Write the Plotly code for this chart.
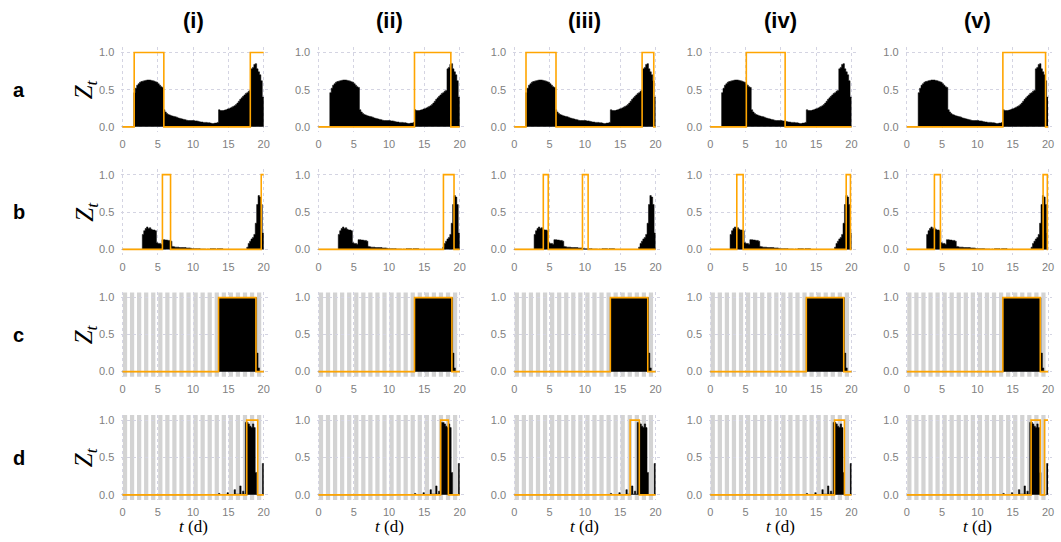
import plotly.graph_objects as go

W, H = 1061, 542

# time grid for the probability series (days)
t_grid = [round(i * 0.2, 1) for i in range(100)]

# probability Z_t for each row (values at each t_grid step)
z_a = [0, 0, 0, 0, 0, 0, 0, 0,
       0.46, 0.52, 0.56, 0.58, 0.60, 0.61, 0.615, 0.62, 0.625, 0.63,
       0.63, 0.63, 0.625, 0.62, 0.615, 0.605, 0.60, 0.58, 0.56, 0.54, 0.53,
       0.23, 0.20, 0.18, 0.165, 0.16, 0.15, 0.145, 0.14, 0.135, 0.13, 0.12,
       0.115, 0.11, 0.105, 0.10, 0.095, 0.09, 0.085, 0.085, 0.085, 0.085,
       0.085, 0.08, 0.08, 0.075, 0.07, 0.065, 0.065, 0.06, 0.06, 0.06,
       0.055, 0.055, 0.05, 0.045, 0.045, 0.05, 0.05, 0.06,
       0.23, 0.22, 0.22, 0.22, 0.225, 0.23, 0.24, 0.245, 0.255, 0.265,
       0.275, 0.285, 0.30, 0.32, 0.345, 0.37, 0.39, 0.41, 0.43, 0.45,
       0.46, 0.48, 0.49,
       0.78, 0.80, 0.84, 0.85, 0.78, 0.74, 0.70, 0.62, 0.40]

z_b = [0, 0, 0, 0, 0, 0, 0, 0, 0, 0, 0, 0, 0, 0,
       0.20, 0.25, 0.28, 0.30, 0.28, 0.29, 0.27, 0.26, 0.26, 0.25,
       0.09, 0.08, 0.08, 0.07,
       0.13, 0.13, 0.125, 0.125, 0.12, 0.12, 0.11,
       0.04, 0.035, 0.03, 0.03, 0.03, 0.025, 0.025, 0.025, 0.025, 0.025,
       0.02, 0.02, 0.02, 0.015, 0.01, 0.01, 0.01, 0.01, 0.01, 0.01,
       0.005, 0.005, 0.005, 0.005, 0.0, 0.005, 0.0, 0.01, 0.01, 0.01,
       0.01, 0.0, 0.01, 0.01, 0.01, 0.01,
       0, 0, 0, 0, 0, 0, 0, 0, 0, 0, 0, 0, 0, 0, 0, 0, 0,
       0.03, 0.08, 0.11, 0.14, 0.16, 0.20, 0.35, 0.60, 0.72, 0.70, 0.60, 0.22]

z_c = [0] * 68 + [1.0] * 27 + [0.25, 0.05, 0, 0, 0]

z_d = [0] * 55 + [0.003, 0.003, 0.003, 0.003, 0.003, 0.005, 0.005, 0.005,
       0.005, 0.005, 0.005, 0.005, 0.005, 0.02, 0.005, 0.005, 0.005, 0.005,
       0.005, 0.03, 0.005, 0.005, 0.005, 0.005, 0.07, 0.01, 0.01, 0.01,
       0.12, 0.01, 0.05, 0.01, 0.97, 0.97, 0.95, 0.92, 0.90, 0.95, 0.90,
       0.30, 0, 0, 0, 0, 0.42]

# decision windows (orange, value 1 inside each interval) per column (i)..(v)
orange_a = [[(1.65, 5.85), (18.1, 20)], [(13.6, 18.75)],
            [(1.65, 5.9), (18.1, 19.75)], [(5.1, 10.6)], [(13.6, 19.65)]]
orange_b = [[(5.65, 6.8), (19.65, 20)], [(17.7, 19.2)],
            [(4.1, 4.8), (9.65, 10.45)], [(3.75, 4.65), (19.25, 19.85)],
            [(3.9, 4.75), (19.3, 19.9)]]
orange_c = [[(13.6, 18.9)], [(13.6, 18.9)], [(13.6, 18.9)],
            [(13.6, 18.9)], [(13.6, 18.9)]]
orange_d = [[(17.6, 19.15)], [(17.3, 18.4)], [(16.4, 17.7)],
            [(17.6, 19.0)], [(17.6, 18.9), (19.5, 20)]]

# night periods (grey bands) shown in rows c and d: start/end of each night
night_start = [0.05, 1.05, 2.05, 3.05, 4.05, 5.05, 6.05, 7.05, 8.05, 9.05,
               10.05, 11.05, 12.05, 13.05, 14.05, 15.05, 16.05, 17.05, 18.05, 19.05]
night_end = [0.65, 1.65, 2.65, 3.65, 4.65, 5.65, 6.65, 7.65, 8.65, 9.65,
             10.65, 11.65, 12.65, 13.65, 14.65, 15.65, 16.65, 17.65, 18.65, 19.65]

row_names = ["a", "b", "c", "d"]
col_names = ["(i)", "(ii)", "(iii)", "(iv)", "(v)"]
x_ticks = [0, 5, 10, 15, 20]
y_ticks = [0.0, 0.5, 1.0]
T_END = 20

rows = [(z_a, orange_a, False), (z_b, orange_b, False),
        (z_c, orange_c, True), (z_d, orange_d, True)]

# panel geometry in pixels
col_x0 = [121.0, 317.7, 514.3, 711.0, 908.3]
px_per_day = 7.085
row_y1 = [51.7, 174.3, 297.7, 420.7]
row_y0 = [126.3, 249.3, 372.0, 495.7]
XR = [-0.15, 20.6]
YR = [-0.07, 1.07]

ORANGE = "#FFA500"
GRID = "#d4d4e2"
TICKC = "#808080"


def step_line(intervals):
    xs, ys = [0], [0]
    for s, e in intervals:
        xs += [s, s]
        ys += [0, 1]
        xs += [e]
        ys += [1]
        if e < T_END:
            xs += [e]
            ys += [0]
    if xs[-1] < T_END:
        xs.append(T_END)
        ys.append(ys[-1])
    return xs, ys


def label(text, x_px, y_px, size, family, angle=0):
    return dict(text=text, xref="paper", yref="paper",
                x=x_px / W, y=1 - y_px / H, xanchor="center", yanchor="middle",
                showarrow=False, textangle=angle,
                font=dict(size=size, family=family, color="black"))


fig = go.Figure()
annotations = []
shapes = []

for r, (z, orange, nights) in enumerate(rows):
    h = row_y0[r] - row_y1[r]
    top_px = row_y1[r] - (YR[1] - 1) * h
    bot_px = row_y0[r] - YR[0] * h
    mid_px = (row_y1[r] + row_y0[r]) / 2
    for c in range(5):
        idx = r * 5 + c + 1
        sx = "" if idx == 1 else str(idx)
        left_px = col_x0[c] + XR[0] * px_per_day
        right_px = col_x0[c] + XR[1] * px_per_day
        fig.update_layout(**{
            f"xaxis{sx}": dict(domain=[left_px / W, right_px / W], range=XR,
                               anchor=f"y{sx}", tickvals=x_ticks,
                               ticktext=[str(v) for v in x_ticks],
                               showgrid=True, gridcolor=GRID, griddash="dot",
                               gridwidth=1, zeroline=False, showline=False,
                               ticks="outside", ticklen=2,
                               tickcolor="rgba(0,0,0,0)",
                               tickfont=dict(size=11, color=TICKC,
                                             family="Liberation Sans")),
            f"yaxis{sx}": dict(domain=[1 - bot_px / H, 1 - top_px / H], range=YR,
                               anchor=f"x{sx}", tickvals=y_ticks,
                               ticktext=["0.0", "0.5", "1.0"],
                               showgrid=True, gridcolor=GRID, griddash="dot",
                               gridwidth=1, zeroline=False, showline=False,
                               ticks="outside", ticklen=4,
                               tickcolor="rgba(0,0,0,0)",
                               tickfont=dict(size=11, color=TICKC,
                                             family="Liberation Sans")),
        })
        xa, ya = f"x{sx}", f"y{sx}"
        if nights:
            for s, e in zip(night_start, night_end):
                shapes.append(dict(type="rect", xref=xa, yref=f"{ya} domain",
                                   x0=s, x1=e, y0=0, y1=1, layer="below",
                                   fillcolor="#d3d3d3", line=dict(width=0)))
        fig.add_trace(go.Scatter(x=t_grid + [T_END], y=z + [z[-1]], mode="lines",
                                 line=dict(shape="hv", width=0.5, color="black"),
                                 fill="tozeroy", fillcolor="black",
                                 xaxis=xa, yaxis=ya, showlegend=False,
                                 hoverinfo="skip"))
        ox, oy = step_line(orange[c])
        fig.add_trace(go.Scatter(x=ox, y=oy, mode="lines",
                                 line=dict(color=ORANGE, width=1.6),
                                 xaxis=xa, yaxis=ya, showlegend=False,
                                 hoverinfo="skip"))
        cx = col_x0[c] + 10 * px_per_day
        if c == 0:
            annotations.append(label("<i>Z</i><sub><i>t</i></sub>", 84, mid_px,
                                     25, "Liberation Serif", -90))
            annotations.append(label(f"<b>{row_names[r]}</b>", 17, mid_px,
                                     20, "Liberation Sans"))
        if r == 0:
            annotations.append(label(f"<b>{col_names[c]}</b>", cx, 20,
                                     22, "Liberation Sans"))
        if r == 3:
            annotations.append(label("<i>t</i> (d)", cx, 527,
                                     17, "Liberation Serif"))

fig.update_layout(width=W, height=H, margin=dict(l=0, r=0, t=0, b=0),
                  plot_bgcolor="white", paper_bgcolor="white",
                  annotations=annotations, shapes=shapes)
fig.write_html("out.html")
